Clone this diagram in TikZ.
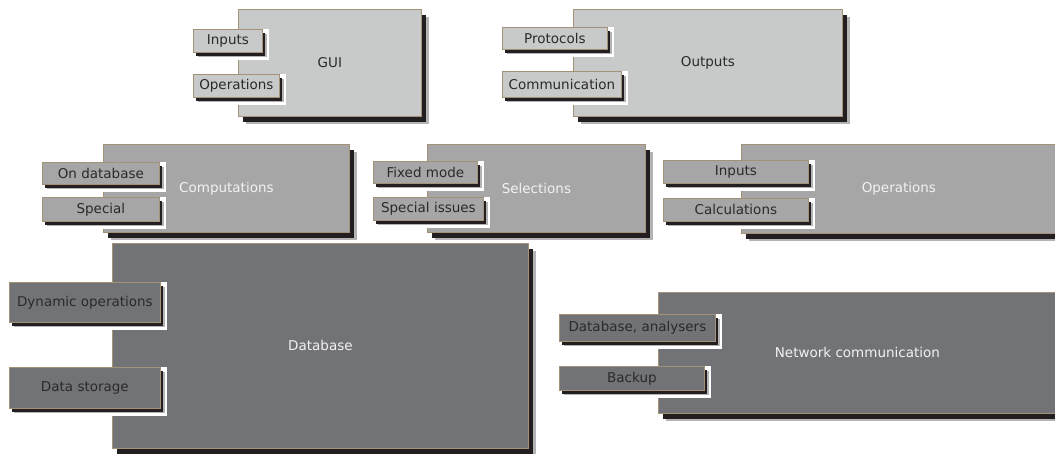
\documentclass[tikz,border=0pt]{standalone}
\usepackage{fontspec}
\setmainfont{DejaVu Sans}
\usetikzlibrary{shadows}

\definecolor{lightfill}{HTML}{C7CAC8}
\definecolor{midfill}{HTML}{A5A6A5}
\definecolor{darkfill}{HTML}{727377}
\definecolor{edge}{HTML}{A39277}
\definecolor{shade}{HTML}{231F20}
\definecolor{fringe}{HTML}{B4B4B4}
\definecolor{darktext}{HTML}{2A2A2A}
\definecolor{lighttext}{HTML}{F2F2F2}

\tikzset{
  box/.style={draw=edge, line width=0.8pt, inner sep=0pt, anchor=north west,
    font=\fontsize{13.5}{16}\selectfont},
  bigshadow/.style={
    general shadow={draw=none, fill=fringe, shadow xshift=7.5pt, shadow yshift=-8pt},
    general shadow={draw=none, fill=shade, shadow xshift=5pt, shadow yshift=-6pt}},
  smallshadow/.style={
    general shadow={draw=none, fill=fringe, shadow xshift=4.5pt, shadow yshift=-5pt},
    general shadow={draw=none, fill=shade, shadow xshift=3pt, shadow yshift=-3.5pt}},
  clearing/.style={fill=white, draw=none},
}

% #1 name, #2 #3 top-left, #4 #5 bottom-right (pixels, y downwards), #6 fill, #7 text colour, #8 label
\newcommand\mainbox[8]{%
  \node[box, bigshadow, fill=#6, text=#7,
        minimum width={(#4-#2)*1pt}, minimum height={(#5-#3)*1pt}]
        (#1) at (#2,#3) {#8};}
% small labelled tab, cut out of the box behind it
\newcommand\tabbox[7]{%
  \fill[clearing] (#2,#3) rectangle ({#4+7},{#5+8});
  \node[box, smallshadow, fill=#6, text=darktext,
        minimum width={(#4-#2)*1pt}, minimum height={(#5-#3)*1pt}]
        (#1) at (#2,#3) {#7};}

\begin{document}
\begin{tikzpicture}[x=1pt, y=-1pt]
\useasboundingbox (0,0) rectangle (1055,454);

% top row
\mainbox{gui}{238}{9}{421}{116}{lightfill}{darktext}{GUI}
\tabbox{guiinputs}{193}{29}{262}{52}{lightfill}{Inputs}
\tabbox{guiops}{193}{74}{279}{97}{lightfill}{Operations}

\mainbox{outputs}{573}{9}{842}{116}{lightfill}{darktext}{Outputs}
\tabbox{protocols}{502}{27}{607}{49}{lightfill}{Protocols}
\tabbox{communication}{502}{71}{621}{97}{lightfill}{Communication}

% middle row
\mainbox{computations}{103}{144}{349}{232}{midfill}{lighttext}{Computations}
\tabbox{ondb}{42}{162}{159}{184}{midfill}{On database}
\tabbox{special}{42}{197}{159}{221}{midfill}{Special}

\mainbox{selections}{427}{144}{645}{232}{midfill}{lighttext}{Selections}
\tabbox{fixed}{373}{161}{477}{183}{midfill}{Fixed mode}
\tabbox{issues}{373}{197}{483}{220}{midfill}{Special issues}

\mainbox{operations}{741}{144}{1056}{233}{midfill}{lighttext}{Operations}
\tabbox{opinputs}{663}{160}{808}{183}{midfill}{Inputs}
\tabbox{calculations}{663}{198}{808}{221}{midfill}{Calculations}

% bottom row
\mainbox{database}{112}{243}{528}{448}{darkfill}{lighttext}{Database}
\tabbox{dynamic}{9}{282}{160}{322}{darkfill}{Dynamic operations}
\tabbox{storage}{9}{367}{160}{408}{darkfill}{Data storage}

\mainbox{network}{658}{292}{1056}{413}{darkfill}{lighttext}{Network communication}
\tabbox{analysers}{559}{314}{715}{341}{darkfill}{Database, analysers}
\tabbox{backup}{559}{366}{704}{390}{darkfill}{Backup}
\end{tikzpicture}
\end{document}
